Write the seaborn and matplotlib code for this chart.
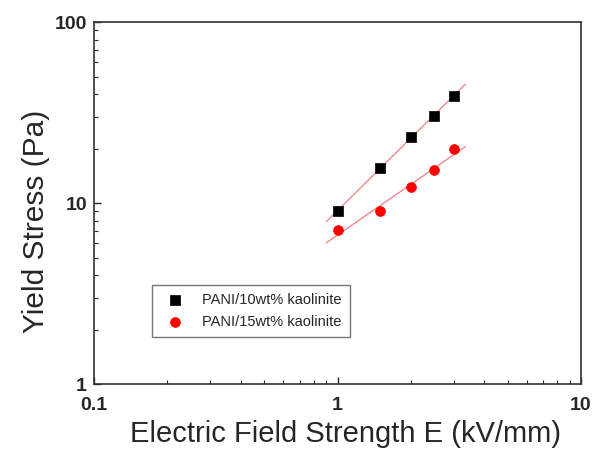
import seaborn as sns
import matplotlib.pyplot as plt
import pandas as pd
import numpy as np

# datos
field = [1.0, 1.5, 2.0, 2.5, 3.0]
stress_10 = [8.98, 15.7, 23.3, 30.4, 38.8]
stress_15 = [7.1, 9.0, 12.2, 15.3, 19.8]
labels = ["PANI/10wt% kaolinite", "PANI/15wt% kaolinite"]
fit_range = [0.9, 3.35]

sns.set_style("ticks")
plt.rcParams["font.family"] = ["Liberation Sans", "DejaVu Sans"]

fig = plt.figure(figsize=(5.93, 4.55), dpi=100)
ax = fig.add_axes([0.1585, 0.156, 0.8213, 0.7956])

# rectas de ajuste (ley potencial) en escala log-log
x_fit = np.geomspace(fit_range[0], fit_range[1], 50)
for ys in [stress_10, stress_15]:
    p = np.polyfit(np.log10(field), np.log10(ys), 1)
    df_fit = pd.DataFrame({"x": x_fit, "y": 10 ** np.polyval(p, np.log10(x_fit))})
    sns.lineplot(data=df_fit, x="x", y="y", ax=ax, color="#f08a8a", linewidth=1.0, legend=False)

sns.scatterplot(x=field, y=stress_10, ax=ax, marker="s", s=45, color="black",
                edgecolor="black", linewidth=0.5, label=labels[0], zorder=3)
sns.scatterplot(x=field, y=stress_15, ax=ax, marker="o", s=50, color="red",
                edgecolor="red", linewidth=0.5, label=labels[1], zorder=3)

ax.set_xscale("log")
ax.set_yscale("log")
ax.set_xlim(0.1, 10)
ax.set_ylim(1, 100)
ax.set_xticks([0.1, 1, 10])
ax.set_xticklabels(["0.1", "1", "10"])
ax.set_yticks([1, 10, 100])
ax.set_yticklabels(["1", "10", "100"])

ax.tick_params(which="major", direction="in", length=5, width=1, labelsize=14)
ax.tick_params(axis="x", which="major", pad=9)
ax.tick_params(axis="y", which="major", pad=5)
ax.tick_params(which="minor", direction="in", length=3, width=0.8)
for lab in ax.get_xticklabels() + ax.get_yticklabels():
    lab.set_fontweight("bold")

for sp in ax.spines.values():
    sp.set_visible(True)
    sp.set_color("#333333")
    sp.set_linewidth(1.2)

ax.set_xlabel("Electric Field Strength E (kV/mm)", fontsize=21)
ax.set_ylabel("Yield Stress (Pa)", fontsize=21.5)
ax.xaxis.set_label_coords(0.516, -0.10)
ax.yaxis.set_label_coords(-0.09, 0.45)

leg = ax.legend(loc="lower left", bbox_to_anchor=(0.119, 0.129), borderaxespad=0,
                fontsize=10.5, frameon=True, fancybox=False, handletextpad=0.8,
                borderpad=0.6, labelspacing=0.5)
leg.get_frame().set_edgecolor("#555555")
leg.get_frame().set_linewidth(1.0)

plt.savefig("out.png", dpi=100)
